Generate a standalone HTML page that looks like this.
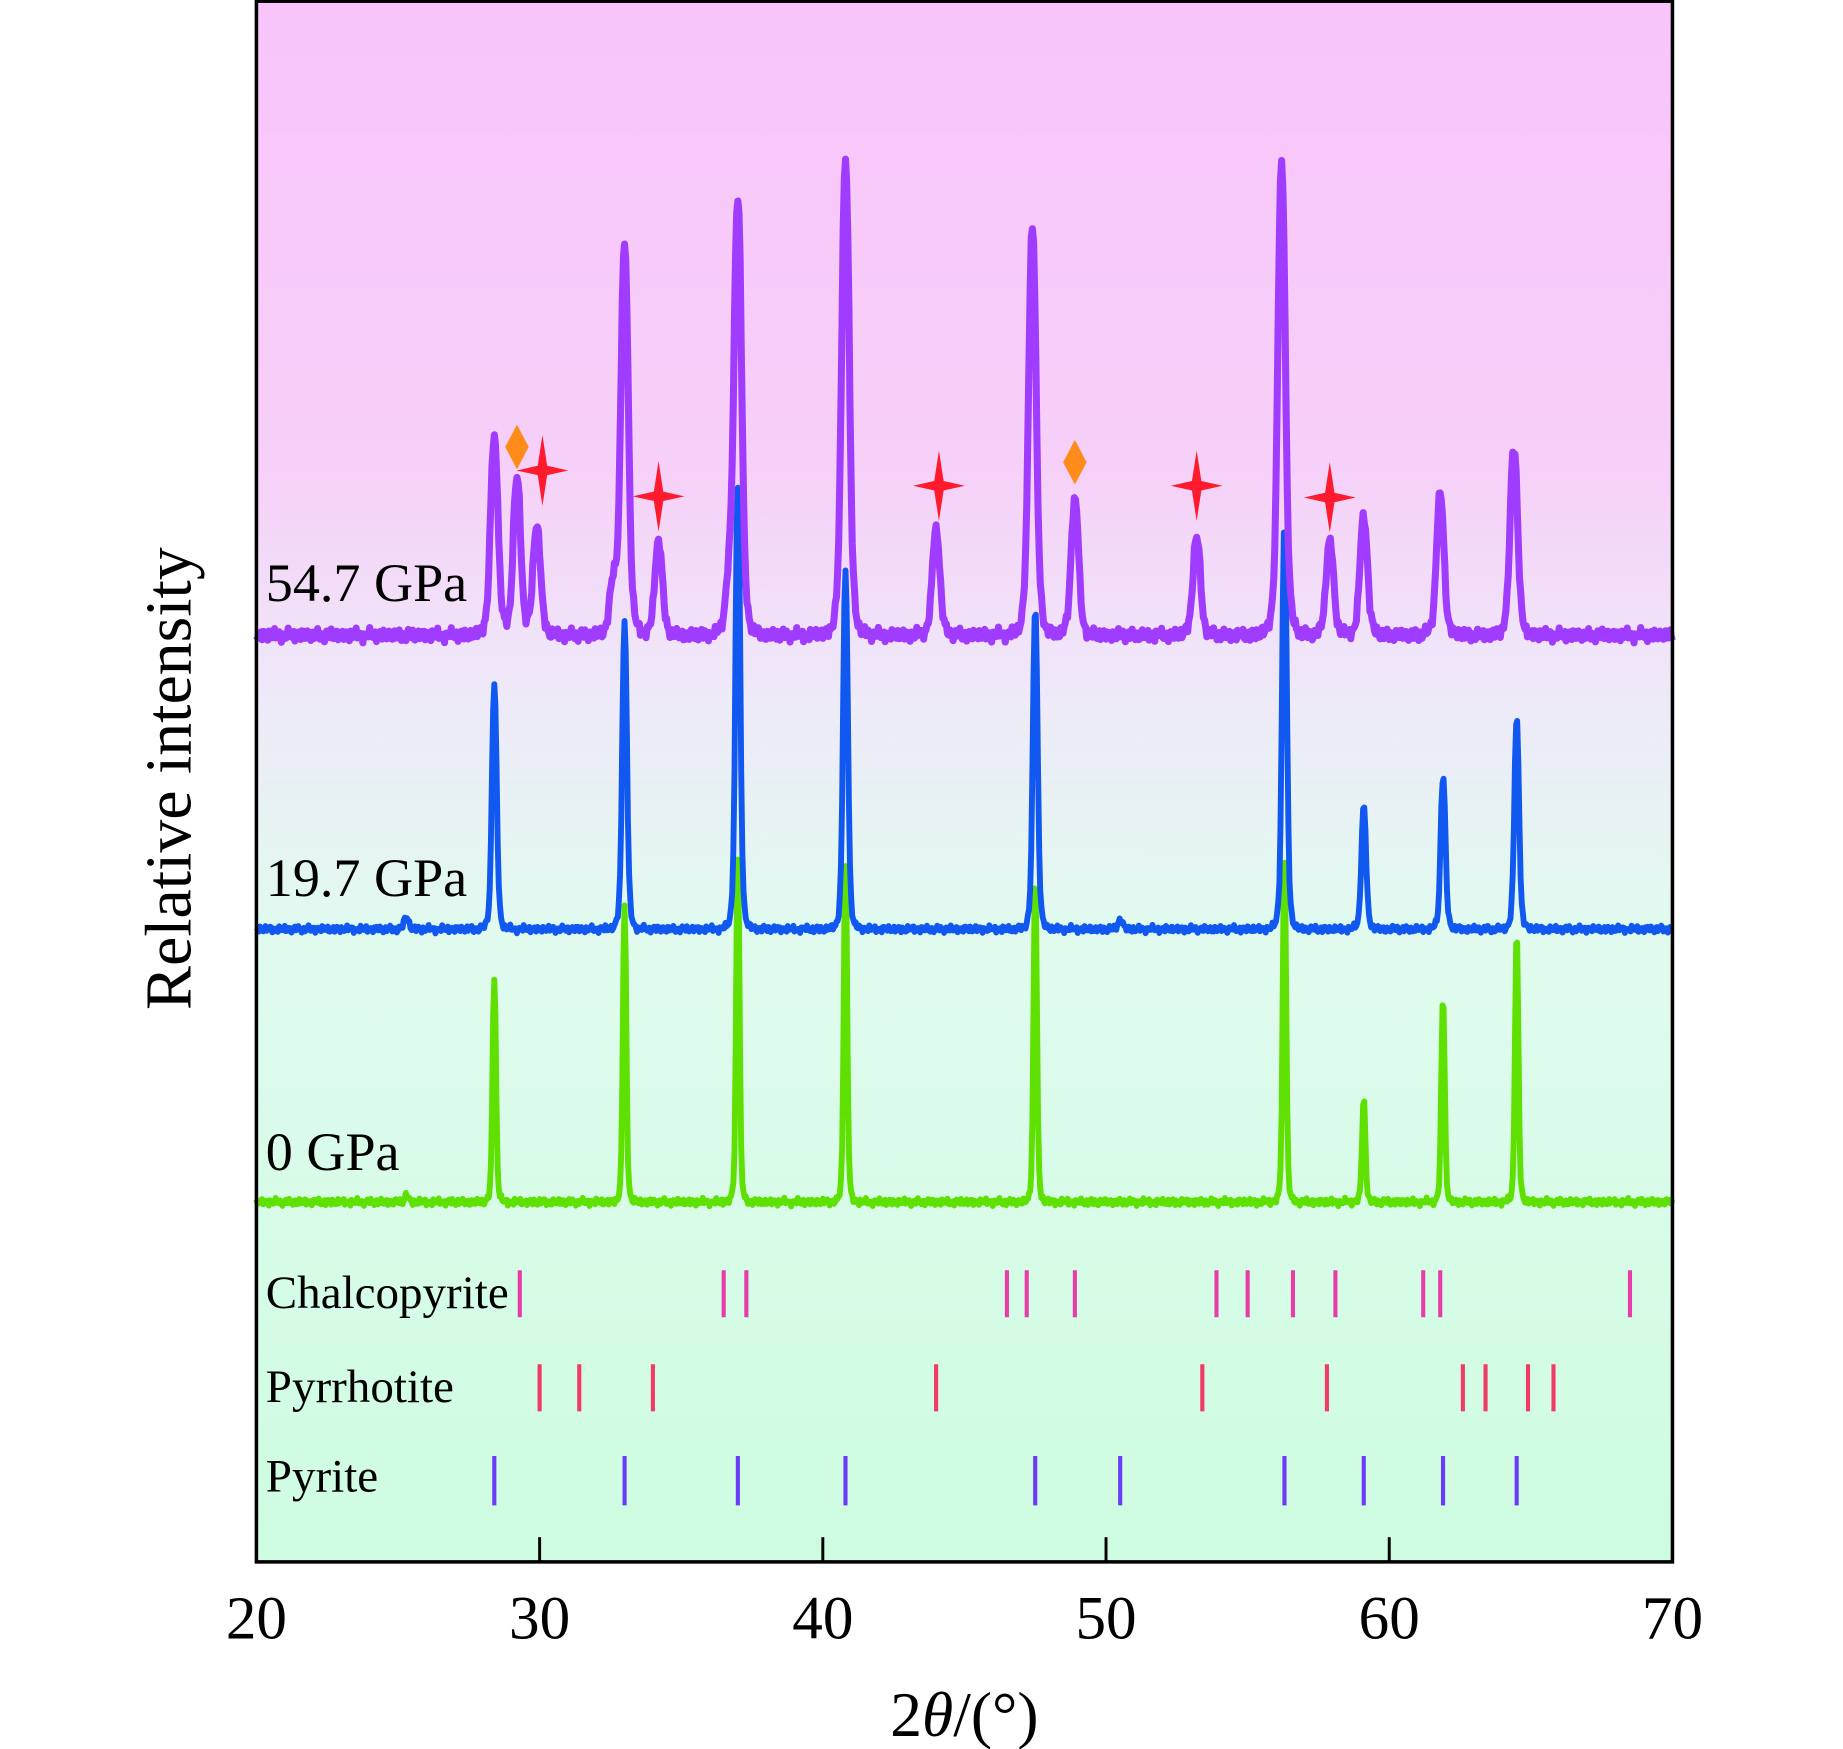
<!DOCTYPE html>
<html><head><meta charset="utf-8"><style>
html,body{margin:0;padding:0;background:#fff;}
svg{display:block;}
text{font-family:"Liberation Serif","DejaVu Serif",serif;fill:#000;}
</style></head><body>
<svg id="chart" width="1843" height="1749" viewBox="0 0 1567 1487.1" xmlns="http://www.w3.org/2000/svg">
<defs>
<linearGradient id="bg" x1="0" y1="0" x2="0" y2="1">
<stop offset="0" stop-color="#f8c4fa"/>
<stop offset="0.3" stop-color="#f6d0f8"/>
<stop offset="0.45" stop-color="#eeeaf8"/>
<stop offset="0.6" stop-color="#e0fbee"/>
<stop offset="1" stop-color="#cdfce0"/>
</linearGradient>
</defs>
<rect x="218" y="0" width="1204" height="1328" fill="url(#bg)"/>
<g id="series"></g>
<g id="refs"></g>
<g id="markers"></g>
<rect x="218" y="1" width="1204" height="1327" fill="none" stroke="#000" stroke-width="3"/>
<g id="xticks"></g>
<text x="226" y="511" font-size="46">54.7 GPa</text>
<text x="226" y="762" font-size="46">19.7 GPa</text>
<text x="226" y="995" font-size="46">0 GPa</text>
<text x="226" y="1112" font-size="40">Chalcopyrite</text>
<text x="226" y="1192" font-size="40">Pyrrhotite</text>
<text x="226" y="1268" font-size="40">Pyrite</text>
<text transform="translate(162,662) rotate(-90)" text-anchor="middle" font-size="56">Relative intensity</text>
<text x="820" y="1476" text-anchor="middle" font-size="54">2<tspan font-style="italic">θ</tspan>/(°)</text>
</svg>
<script>
const xTicks=[20,30,40,50,60,70];
const greenPos=[28.4,33.0,37.0,40.8,47.5,56.3,59.1,61.9,64.5,25.3];
const greenH=[192,252,292,287,277,302,87,174,229,6];
const bluePos=[28.4,33.0,37.0,40.8,47.5,56.3,59.1,61.9,64.5,25.3,50.5];
const blueH=[207,260,377,302,273,345,104,130,178,10,8];
const purplePos=[28.4,29.2,29.9,32.6,33.0,34.2,37.0,40.8,44.0,47.4,48.9,53.2,56.2,57.9,59.1,61.8,64.4,36.7];
const purpleH=[167,132,93,40,328,80,368,403,90,347,115,83,398,80,100,119,160,40];
const chalco=[29.3,36.5,37.3,46.5,47.2,48.9,53.9,55.0,56.6,58.1,61.2,61.8,68.5];
const pyrrh=[30.0,31.4,34.0,44.0,53.4,57.8,62.6,63.4,64.9,65.8];
const pyrite=[28.4,33.0,37.0,40.8,47.5,50.5,56.3,59.1,61.9,64.5];
const diamonds=[29.2,48.9];
const diamondY=[380,393];
const stars=[30.1,34.2,44.1,53.2,57.9];
const starY=[400,422,413,413,423];
const NS="http://www.w3.org/2000/svg";
const X=v=>218+(v-20)*(1204/50);
function mk(t,a,p){const e=document.createElementNS(NS,t);for(const k in a)e.setAttribute(k,a[k]);p.appendChild(e);return e;}
function noise(x,s){return Math.sin(x*37.1+s)*1.6+Math.sin(x*91.7+s*2)*1.3+Math.sin(x*13.3+s*3)*0.8;}
function trace(pos,h,w,base,seed){
  let d="";
  for(let x=20;x<=70.001;x+=0.04){
    let y=0;
    for(let i=0;i<pos.length;i++){const u=(x-pos[i])/w;y+=h[i]/(1+u*u*u*u*2+u*u);}
    y+=noise(x,seed)*(seed===3?1.8:1);
    d+=(d?"L":"M")+X(x).toFixed(1)+","+(base-y).toFixed(1);
  }
  return d;
}
const sg=document.getElementById('series');
let p=mk('path',{d:trace(greenPos,greenH,0.1,1022,1),fill:'none',stroke:'#5ee000','stroke-width':5,'stroke-linejoin':'round'},sg);


p=mk('path',{d:trace(bluePos,blueH,0.14,790,2),fill:'none',stroke:'#1058f0','stroke-width':5,'stroke-linejoin':'round'},sg);


p=mk('path',{d:trace(purplePos,purpleH,0.22,540,3),fill:'none',stroke:'#a03cff','stroke-width':6,'stroke-linejoin':'round'},sg);


const rg=document.getElementById('refs');
function refs(arr,y1,y2,col,name){arr.forEach(v=>{const l=mk('line',{x1:X(v),x2:X(v),y1:y1,y2:y2,stroke:col,'stroke-width':3.5},rg);

});}
refs(chalco,1080,1120,'#e83ca8','chalcopyrite-ref-line');
refs(pyrrh,1160,1200,'#f03c64','pyrrhotite-ref-line');
refs(pyrite,1238,1280,'#6a3cf8','pyrite-ref-line');
const mg=document.getElementById('markers');
diamonds.forEach((v,i)=>{const x=X(v),y=diamondY[i];const e=mk('polygon',{points:`${x},${y-19} ${x+10},${y} ${x},${y+19} ${x-10},${y}`,fill:'#ff8c1a'},mg);

});
stars.forEach((v,i)=>{const x=X(v),y=starY[i];const e=mk('polygon',{points:`${x},${y-30} ${x+4},${y-4} ${x+22},${y} ${x+4},${y+4} ${x},${y+30} ${x-4},${y+4} ${x-22},${y} ${x-4},${y-4}`,fill:'#ff1a2e'},mg);

});
const tg=document.getElementById('xticks');
xTicks.forEach(v=>{
  if(v>20&&v<70){const l=mk('line',{x1:X(v),x2:X(v),y1:1328,y2:1307,stroke:'#000','stroke-width':2.5},tg);
  
  }
  const t=mk('text',{x:X(v),y:1393,'text-anchor':'middle','font-size':52},tg);t.textContent=v;
  
  
});
</script>
</body></html>
